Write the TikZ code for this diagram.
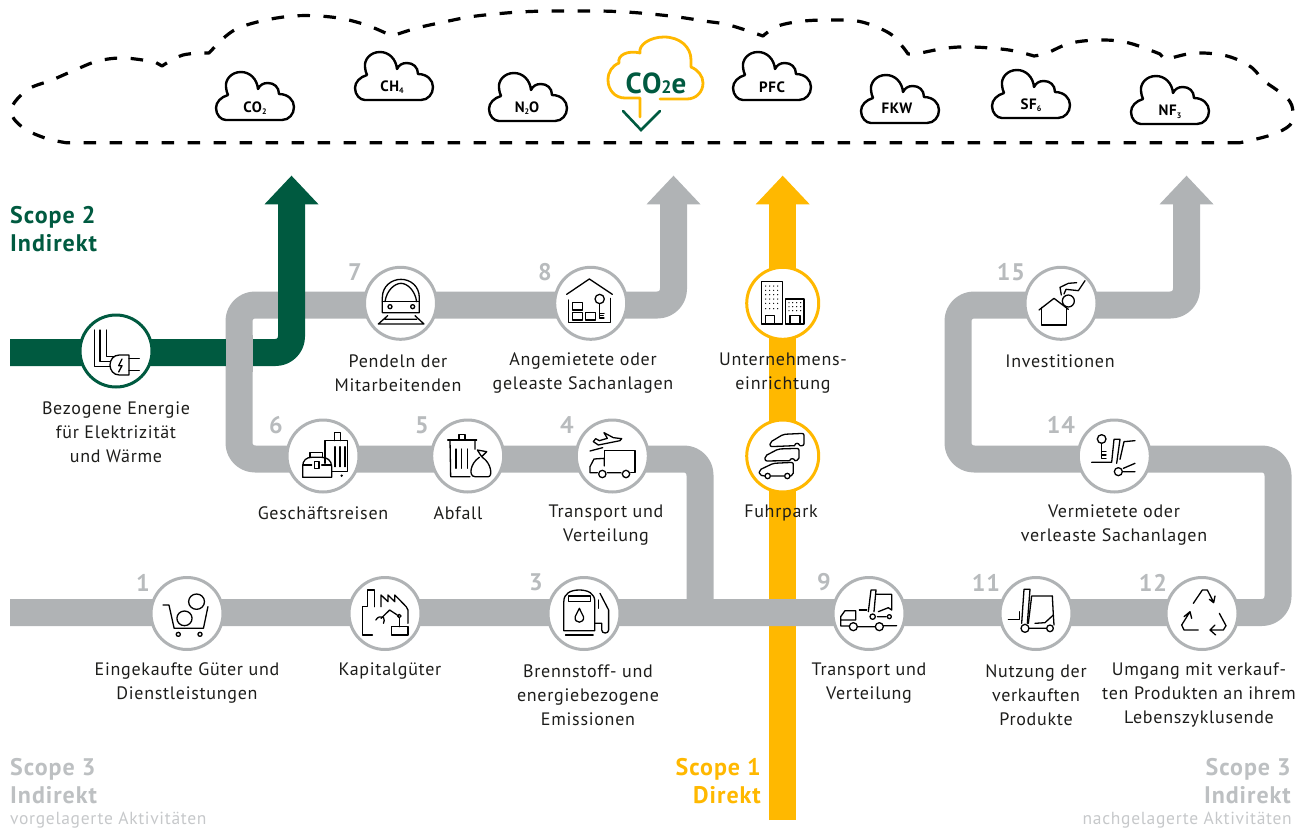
\documentclass[tikz,border=0pt]{standalone}
\usepackage{fontspec}
\setmainfont[LetterSpace=4]{PT Sans}
\usetikzlibrary{calc}
\definecolor{grayline}{HTML}{B0B3B5}
\definecolor{graynum}{HTML}{B8BBBD}
\definecolor{grayscope}{HTML}{BDC0C2}
\definecolor{grayfaint}{HTML}{C6C8CA}
\definecolor{yell}{HTML}{FFB800}
\definecolor{grn}{HTML}{005A40}
\definecolor{ink}{HTML}{1D1D1B}
\tikzset{
  pipe/.style={line width=27pt,rounded corners=16pt,line cap=butt,line join=round},
  disc/.style={circle,draw=#1,fill=white,line width=3pt,minimum size=72pt,inner sep=0pt},
  lab/.style={text=ink,align=center,font=\fontsize{18}{24}\selectfont,inner sep=0pt},
  num/.style={text=graynum,font=\fontsize{24}{24}\selectfont\bfseries,inner sep=0pt},
  scopebig/.style={font=\fontsize{24}{28}\selectfont\bfseries,inner sep=0pt},
  faint/.style={text=grayfaint,font=\fontsize{17.5}{20}\selectfont,inner sep=0pt},
  ic/.style={draw=black,line width=1.3pt,line join=round,line cap=round},
  tinycloud/.style={draw=black,line width=2.4pt,fill=white,line join=round},
  gastext/.style={font=\fontsize{15}{15}\selectfont\bfseries,inner sep=0pt,text=black},
  dashcloud/.style={draw=black,line width=3.2pt,dash pattern=on 12.5pt off 13.5pt,line join=round},
  zone/.style={x=0.33333pt,y=-0.33333pt},
  zonesix/.style={x=0.34483pt,y=-0.33333pt},
  cloudshape/.pic={
    \path[tinycloud] (10,48) -- (66,48) .. controls (73,48) and (78,42) .. (78,35)
      .. controls (78,28) and (72,22) .. (63,22) .. controls (63,15) and (58,11) .. (52,11)
      .. controls (47,11) and (44,13) .. (42,17) .. controls (41,7) and (34,0) .. (25,0)
      .. controls (15,0) and (9,8) .. (10,15) .. controls (10,18) and (11,20) .. (12,23)
      .. controls (5,25) and (0,30) .. (0,36) .. controls (0,43) and (5,48) .. (10,48) -- cycle;
  }
}
\newcommand{\sbs}[1]{\raisebox{-2.5pt}{\fontsize{8}{8}\selectfont #1}}
\begin{document}
\begin{tikzpicture}[x=1pt,y=-1pt]
\useasboundingbox (0,0) rectangle (1296,830);

% ---- coordinates of the routes
\coordinate (y-tip) at (782.7,175.7);
\coordinate (y-base) at (782.7,204);
\coordinate (y-end) at (782.7,820);
\coordinate (g-tip) at (291.5,175.7);
\coordinate (g-base) at (291.5,204);
\coordinate (g-knee) at (291.5,352.5);
\coordinate (g-start) at (10,352.5);
\coordinate (a-tip) at (673.5,175.7);
\coordinate (a-base) at (673.5,204);
\coordinate (a-knee) at (673.5,305);
\coordinate (a-left) at (239,305);
\coordinate (a-low) at (239,459);
\coordinate (a-right) at (700,459);
\coordinate (a-foot) at (700,612.5);
\coordinate (b-tip) at (1186.5,175.7);
\coordinate (b-base) at (1186.5,204);
\coordinate (b-knee) at (1186.5,305);
\coordinate (b-left) at (958,305);
\coordinate (b-low) at (958,459);
\coordinate (b-right) at (1278,459);
\coordinate (b-foot) at (1278,612.5);
\coordinate (m-start) at (10,612.5);
\coordinate (c-a) at (239,335);
\coordinate (c-b) at (239,372);

% ---- yellow route
\draw[pipe,draw=yell] (y-end) -- (y-base);
\fill[yell] (y-tip) -- ++(27,28.6) -- ++(-54,0) -- cycle;

% ---- grey routes
\draw[pipe,draw=grayline] (m-start) -- (b-foot) -- (b-right) -- (b-low) -- (b-left) -- (b-knee) -- (b-base);
\fill[grayline] (b-tip) -- ++(27,28.6) -- ++(-54,0) -- cycle;
\draw[pipe,draw=grayline] (a-foot) -- (a-right) -- (a-low) -- (a-left) -- (a-knee) -- (a-base);
\fill[grayline] (a-tip) -- ++(27,28.6) -- ++(-54,0) -- cycle;

% ---- green route
\draw[pipe,draw=grn] (g-start) -- (g-knee) -- (g-base);
\fill[grn] (g-tip) -- ++(27,28.6) -- ++(-54,0) -- cycle;
\draw[pipe,draw=grayline] (c-a) -- (c-b);

% ---- dashed outer cloud
\draw[dashcloud] (1240,142.7) -- (66,142.7)
 -- plot[smooth,tension=.6] coordinates {(66,142.7)(45,138)(22,127)(11,110)(27,90)(52,80)(75,70)(98,61)(124,58)(155,62)}
 -- plot[smooth,tension=.6] coordinates {(162,66)(183,55)(209,53)}
 -- plot[smooth,tension=.6] coordinates {(209,53)(226,36)(241,27)(266,20)(293,16)(319,16)(344,19)(369,26)(392,36)}
 -- plot[smooth,tension=.6] coordinates {(392,36)(417,28)(444,22)(469,17)(495,14)(520,12)(547,11)(573,11)(600,11)(626,12)(651,14)(678,17)(704,21)(729,25)(763,36)}
 -- plot[smooth,tension=.6] coordinates {(763,36)(778,26)(804,21)(836,20)(862,22)(889,33)(902,46)(908,54)}
 -- plot[smooth,tension=.6] coordinates {(908,54)(920,53)(947,48)(973,47)(1009,50)(1034,56)}
 -- plot[smooth,tension=.6] coordinates {(1034,56)(1047,53)(1071,43)(1102,40)(1129,43)(1160,54)}
 -- plot[smooth,tension=.6] coordinates {(1165,60)(1171,58)(1196,53)(1227,56)(1251,67)(1262,80)}
 -- plot[smooth,tension=.6] coordinates {(1262,80)(1287,98)(1293,112)(1290,125)(1271,135)(1240,142.7)};

% ---- small clouds
\pic at (216,72) {cloudshape};
\pic at (355,52) {cloudshape};
\pic at (489,73) {cloudshape};
\pic at (733,52) {cloudshape};
\pic at (861,75) {cloudshape};
\pic at (992,70) {cloudshape};
\pic at (1131,76) {cloudshape};
\node[gastext] (gas1) at (255,108) {CO\sbs{2}};
\node[gastext] (gas2) at (392,87) {CH\sbs{4}};
\node[gastext] (gas3) at (527,108) {N\sbs{2}O};
\node[gastext] (gas4) at (772,87) {PFC};
\node[gastext] (gas5) at (897,108) {FKW};
\node[gastext] (gas6) at (1031,105) {SF\sbs{6}};
\node[gastext] (gas7) at (1170,112) {NF\sbs{3}};

% ---- CO2e cloud
\draw[yell,line width=2.8pt,line cap=round,line join=round]
  (640,117) -- (640,98) -- (625,98) .. controls (615,98) and (608,90) .. (608,80)
  .. controls (608,72) and (612,66) .. (619,63) .. controls (617,55) and (628,50) .. (640,53)
  .. controls (638,45) and (650,37) .. (664,37) .. controls (680,37) and (691,47) .. (691,60)
  -- (691,67) .. controls (698,70) and (703,76) .. (703,83) .. controls (703,92) and (696,99) .. (687,99) -- (660,99);
\node[inner sep=0pt,text=grn,font=\fontsize{29}{29}\selectfont\bfseries] (co2e) at (656,83) {CO\raisebox{0pt}{\fontsize{18}{18}\selectfont 2}e};
\draw[grn,line width=2.6pt,line cap=round,line join=miter] (623,111) -- (641,130) -- (660,111);

% ---- discs
\node[disc=grn] (energy) at (116,351) {};
\node[disc=grayline] (n7) at (400.5,303.3) {};
\node[disc=grayline] (n8) at (590.7,303.3) {};
\node[disc=yell] (fac) at (782.7,303.3) {};
\node[disc=yell] (fleet) at (782.7,456) {};
\node[disc=grayline] (n4) at (612.3,456) {};
\node[disc=grayline] (n5) at (467.7,456) {};
\node[disc=grayline] (n6) at (323,456) {};
\node[disc=grayline] (n15) at (1061,303.3) {};
\node[disc=grayline] (n14) at (1114.3,456) {};
\node[disc=grayline] (n1) at (187,613.5) {};
\node[disc=grayline] (n2) at (385,613.5) {};
\node[disc=grayline] (n3) at (584,613.5) {};
\node[disc=grayline] (n9) at (869,613.5) {};
\node[disc=grayline] (n11) at (1036,613.5) {};
\node[disc=grayline] (n12) at (1202,613.5) {};

% ---- icons, crop origin (0,250)
\begin{scope}[shift={(0,250)},zone]
  % energy
  \draw[ic] (283,240) -- (283,350) -- (330,350);
  \draw[ic] (300,240) -- (300,335) -- (330,335);
  \draw[ic] (320,240) -- (320,320) -- (342,320);
  \draw[ic] (387,315) -- (358,315) .. controls (340,315) and (330,330) .. (330,345) .. controls (330,360) and (340,375) .. (358,375) -- (387,375) -- cycle;
  \draw[ic] (387,325) -- (418,325) (387,362) -- (418,362);
  \draw[ic] (366,327) -- (356,347) -- (366,347) -- (356,366);
  % train
  \draw[ic] (1147,188) -- (1147,143) .. controls (1147,108) and (1175,88) .. (1203,88) .. controls (1231,88) and (1258,108) .. (1258,143) -- (1258,188) -- cycle;
  \draw[ic] (1147,155) -- (1258,155);
  \draw[ic] (1155,155) .. controls (1160,120) and (1185,100) .. (1203,100) .. controls (1221,100) and (1245,120) .. (1250,155);
  \draw[ic] (1170,170) circle[radius=6] (1238,170) circle[radius=6];
  \draw[ic] (1135,222) -- (1163,197) (1245,197) -- (1272,222) (1135,222) -- (1272,222) (1155,208) -- (1250,208);
  % luggage
  \draw[ic] (975,640) -- (975,572) -- (1043,572) -- (1043,665) -- (995,665);
  \draw[ic] (1003,572) -- (1003,547) -- (1021,547) -- (1021,572);
  \draw[ic] (1005,590) -- (1005,650) (1020,590) -- (1020,650) (1035,590) -- (1035,650);
  \fill (1025,677) circle[radius=4];
  \draw[ic] (908,682) -- (995,682) -- (995,650) .. controls (995,630) and (980,622) .. (965,622) -- (935,622) .. controls (920,622) and (908,630) .. (908,650) -- cycle;
  \draw[ic] (930,622) -- (930,607) -- (968,607) -- (968,622);
  \draw[ic] (908,645) -- (935,645) (965,645) -- (995,645) (943,635) rectangle (957,655);
\end{scope}

% ---- icons, crop origin (420,250)
\begin{scope}[shift={(420,250)},zone]
  % house and key
  \draw[ic] (440,133) -- (508,87) -- (577,133);
  \draw[ic] (445,150) -- (445,218) -- (572,218) -- (572,145);
  \draw[ic] (457,157) rectangle (487,180) (457,187) rectangle (487,210) (497,187) rectangle (527,210);
  \draw[ic] (539,147) circle[radius=14];
  \draw[ic] (539,161) -- (539,205) (539,190) -- (552,190) (539,197) -- (550,197) (539,204) -- (552,204);
  % buildings
  \draw[ic] (1025,95) rectangle (1087,222) (1097,147) rectangle (1152,222);
  \draw[ic] (1037,222) -- (1037,197) -- (1064,197) -- (1064,222) (1110,222) -- (1110,197) -- (1140,197) -- (1140,222);
  \foreach \xx in {1037,1049,1061,1073} \foreach \yy in {108,121,134,147,160,176} \fill (\xx,\yy) circle[radius=2];
  \foreach \xx in {1107,1118,1130,1142} \foreach \yy in {158,170,182} \fill (\xx,\yy) circle[radius=2];
  % vans
  \draw[ic,rounded corners=2pt] (1124,587) -- (1050,590) -- (1050,577) -- (1090,553) -- (1152,550) -- (1152,587) -- (1140,587);
  \draw[ic] (1124,586) .. controls (1126,578) and (1136,578) .. (1139,586);
  \draw[ic,rounded corners=2pt] (1108,632) -- (1035,633) -- (1035,618) -- (1075,597) -- (1137,595) -- (1137,630) -- (1125,632);
  \draw[ic] (1109,632) .. controls (1111,624) and (1122,624) .. (1125,632);
  \draw[ic,rounded corners=2pt] (1034,678) -- (1018,675) -- (1018,660) -- (1060,640) -- (1120,637) -- (1120,675) -- (1111,678);
  \draw[ic] (1043,678) circle[radius=8] (1102,678) circle[radius=8] (1052,678) -- (1093,678);
  % plane and truck
  \draw[ic] (520,575) -- (535,585) -- (600,572) -- (605,566) -- (580,563) -- (552,548) -- (562,565) -- (538,572) -- (527,566) -- cycle;
  \draw[ic] (510,603) -- (548,593);
  \draw[ic] (553,625) -- (553,602) -- (645,602) -- (645,668) -- (632,668);
  \draw[ic] (553,648) -- (553,625) -- (522,627) -- (510,650) -- (510,668) -- (532,668);
  \draw[ic] (547,672) circle[radius=11] (618,672) circle[radius=11] (562,668) -- (603,668);
  % bin and bag
  \draw[ic] (83,570) -- (170,570) (117,570) -- (117,553) -- (135,553) -- (135,570);
  \draw[ic] (90,570) -- (92,680) -- (150,680) (165,570) -- (165,598);
  \draw[ic] (108,597) -- (108,655) (125,597) -- (125,655) (142,597) -- (142,655);
  \draw[ic] (172,600) -- (200,605) -- (185,620) -- cycle;
  \draw[ic] (178,622) .. controls (150,640) and (145,680) .. (165,680) -- (205,680) .. controls (218,680) and (215,640) .. (187,622);
\end{scope}

% ---- icons, crop origin (940,250)
\begin{scope}[shift={(940,250)},zone]
  \draw[ic] (297,180) -- (342,145) -- (385,178);
  \draw[ic] (305,172) -- (305,225) -- (380,225) -- (380,172);
  \draw[ic] (385,153) circle[radius=18];
  \draw[ic] (364,135) -- (360,112) -- (385,100) -- (410,98);
  \draw[ic] (372,132) -- (378,118) -- (415,122) -- (435,92);
  % key and forklift
  \draw[ic] (485,567) circle[radius=13];
  \draw[ic] (485,580) -- (485,625) (485,605) -- (498,605) (485,615) -- (498,615) (485,625) -- (498,625);
  \draw[ic] (455,637) -- (515,637) -- (522,568) -- (540,568) -- (530,640);
  \draw[ic] (585,572) -- (552,575) -- (540,628);
  \draw[ic] (535,665) circle[radius=12] (550,665) -- (585,665) (550,655) -- (585,640);
\end{scope}

% ---- icons, crop origin (100,560)
\begin{scope}[shift={(100,560)},zonesix]
  % cart
  \draw[ic] (183,135) -- (200,135) -- (215,205) -- (300,205) -- (313,140);
  \draw[ic] (227,223) circle[radius=6] (290,223) circle[radius=6];
  \draw[ic] (245,175) circle[radius=22] (280,125) circle[radius=23];
  % factory
  \draw[ic] (790,225) -- (762,225) -- (762,140) -- (775,140) -- (775,90) -- (797,90) -- (797,140);
  \draw[ic] (815,140) -- (815,105) -- (835,125) -- (835,105) -- (855,125) -- (855,105) -- (888,140) -- (893,150) -- (893,190);
  \draw[ic] (845,225) -- (845,200) -- (893,200) -- (893,225) -- cycle;
  \draw[ic] (868,200) -- (868,175);
  \draw[ic] (868,168) circle[radius=5];
  \draw[ic] (862,165) -- (840,150) -- (815,175);
  \draw[ic] (800,180) .. controls (805,170) and (815,168) .. (822,172) .. controls (825,178) and (825,185) .. (822,190);
  % pump
  \draw[ic] (1345,212) -- (1345,125) .. controls (1345,100) and (1365,90) .. (1390,90) .. controls (1415,90) and (1435,100) .. (1435,125) -- (1435,212) -- cycle;
  \draw[ic] (1358,108) rectangle (1422,125);
  \draw[ic] (1390,145) -- (1378,170) .. controls (1374,192) and (1406,192) .. (1402,170) -- cycle;
  \draw[ic] (1350,225) -- (1430,225);
  \draw[ic] (1435,190) -- (1455,190) -- (1455,210) .. controls (1455,222) and (1475,222) .. (1475,210) -- (1475,150) -- (1450,100);
  \draw[ic] (1445,120) -- (1445,145);
\end{scope}

% ---- icons, crop origin (800,560)
\begin{scope}[shift={(800,560)},zone]
  % truck and forklift
  \draw[ic] (148,198) -- (122,198) -- (122,170) -- (135,152) -- (167,152) -- (167,180) -- (122,180);
  \draw[ic] (160,200) circle[radius=12] (238,200) circle[radius=12] (172,200) -- (226,200) (250,197) -- (290,197);
  \draw[ic] (205,155) -- (213,90) -- (228,90) -- (222,155);
  \draw[ic] (228,103) -- (275,103) -- (275,150) -- (265,143) -- (235,155);
  \draw[ic] (218,170) circle[radius=8] (268,170) circle[radius=6] (232,170) -- (258,170);
  \draw[ic] (178,150) -- (200,150);
  % forklift
  \draw[ic] (665,190) -- (672,88) -- (690,88) -- (682,190);
  \draw[ic] (757,108) -- (695,108) -- (685,190);
  \draw[ic] (757,108) -- (760,165) -- (735,188) -- (705,190);
  \draw[ic] (760,165) -- (762,195);
  \draw[ic] (658,155) -- (658,178) -- (625,178);
  \draw[ic] (675,205) circle[radius=12] (750,205) circle[radius=10] (690,205) -- (738,205);
  % recycling
  \draw[ic] (1180,130) -- (1207,90) -- (1222,90) -- (1240,125) (1228,118) -- (1241,128) -- (1245,108);
  \draw[ic] (1170,155) -- (1145,195) -- (1152,210) -- (1195,210) (1152,170) -- (1170,155) -- (1175,175);
  \draw[ic] (1258,160) -- (1278,197) -- (1270,210) -- (1230,210) (1245,195) -- (1230,210) -- (1247,225);
\end{scope}

% ---- numbers
\node[num] (t7) at (355,272.5) {7};
\node[num] (t8) at (545,272.5) {8};
\node[num] (t6) at (276,425) {6};
\node[num] (t5) at (422,425) {5};
\node[num] (t4) at (567,425) {4};
\node[num] (t15) at (1011,272.5) {15};
\node[num] (t14) at (1061,425) {14};
\node[num] (t1) at (143,582.5) {1};
\node[num] (t3) at (536,582.5) {3};
\node[num] (t9) at (824,582.5) {9};
\node[num] (t11) at (986,582.5) {11};
\node[num] (t12) at (1153,582.5) {12};

% ---- labels
\node[lab] (l0) at (116,432) {Bezogene Energie\\für Elektrizität\\und Wärme};
\node[lab] (l7) at (398,373) {Pendeln der\\Mitarbeitenden};
\node[lab] (l8) at (583,373) {Angemietete oder\\geleaste Sachanlagen};
\node[lab] (lf) at (783,373) {Unternehmens-\\einrichtung};
\node[lab] (l15) at (1060,361) {Investitionen};
\node[lab] (l6) at (323,513) {Geschäftsreisen};
\node[lab] (l5) at (458,513) {Abfall};
\node[lab] (l4) at (606,525) {Transport und\\Verteilung};
\node[lab] (lp) at (781,513) {Fuhrpark};
\node[lab] (l14) at (1114,525) {Vermietete oder\\verleaste Sachanlagen};
\node[lab] (l1) at (187,683) {Eingekaufte Güter und\\Dienstleistungen};
\node[lab] (l2) at (390,671) {Kapitalgüter};
\node[lab] (l3) at (588,695) {Brennstoff- und\\energiebezogene\\Emissionen};
\node[lab] (l9) at (869,683) {Transport und\\Verteilung};
\node[lab] (l11) at (1036,695) {Nutzung der\\verkauften\\Produkte};
\node[lab] (l12) at (1199,695) {Umgang mit verkauf-\\ten Produkten an ihrem\\Lebenszyklusende};

% ---- scope captions
\node[scopebig,text=grn,anchor=west,align=left] (s2) at (10,229.5) {Scope 2\\Indirekt};
\node[scopebig,text=grayscope,anchor=west,align=left] (s3a) at (10,781) {Scope 3\\Indirekt};
\node[scopebig,text=grayscope,anchor=east,align=right] (s3b) at (1291,781) {Scope 3\\Indirekt};
\node[scopebig,text=yell,anchor=east,align=right] (s1) at (761,781) {Scope 1\\Direkt};
\node[faint,anchor=west] (va) at (10,820) {vorgelagerte Aktivitäten};
\node[faint,anchor=east] (na) at (1292,820) {nachgelagerte Aktivitäten};
\end{tikzpicture}
\end{document}
